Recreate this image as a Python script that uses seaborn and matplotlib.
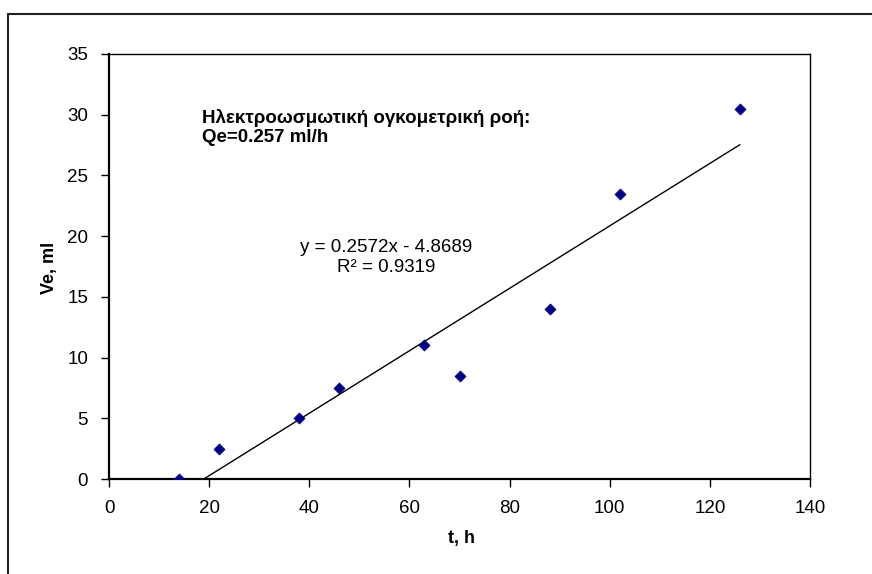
import numpy as np
import pandas as pd
import matplotlib
matplotlib.use("Agg")
import matplotlib.pyplot as plt
import seaborn as sns
from matplotlib.lines import Line2D

sns.set_theme(style="white")
plt.rcParams["font.family"] = ["Liberation Sans", "DejaVu Sans"]

# Measured electro-osmotic volume over time
t_hours = [14, 22, 38, 46, 63, 70, 88, 102, 126]
ve_ml = [0, 2.5, 5, 7.5, 11, 8.5, 14, 23.5, 30.5]

x_ticks = [0, 20, 40, 60, 80, 100, 120, 140]
y_ticks = [0, 5, 10, 15, 20, 25, 30, 35]

title_lines = ["Ηλεκτροωσμωτική ογκομετρική ροή:", "Qe=0.257 ml/h"]

df = pd.DataFrame({"t": t_hours, "Ve": ve_ml})

# Linear least-squares trend line
slope, intercept = np.polyfit(df["t"], df["Ve"], 1)
pred = slope * df["t"] + intercept
r2 = 1 - ((df["Ve"] - pred) ** 2).sum() / ((df["Ve"] - df["Ve"].mean()) ** 2).sum()
trend = pd.DataFrame({"t": [df["t"].min(), df["t"].max()]})
trend["Ve"] = slope * trend["t"] + intercept

fig = plt.figure(figsize=(8.72, 5.74), dpi=100)
ax = fig.add_axes([109 / 872, 1 - 479 / 574, 701 / 872, 425 / 574])

sns.lineplot(data=trend, x="t", y="Ve", ax=ax, color="black", linewidth=1.0)
sns.scatterplot(data=df, x="t", y="Ve", ax=ax, marker="D", s=32,
                color="#000080", edgecolor="#000080", linewidth=0.5, zorder=3)

ax.set_xlim(0, 140)
ax.set_ylim(0, 35)
ax.set_xticks(x_ticks)
ax.set_yticks(y_ticks)
ax.set_xticklabels([str(v) for v in x_ticks])
ax.set_yticklabels([str(v) for v in y_ticks])
ax.tick_params(axis="both", which="major", direction="out", length=6, width=1,
               color="black", labelsize=13.5, labelcolor="black",
               bottom=True, left=True)
ax.tick_params(axis="x", pad=9)
ax.tick_params(axis="y", pad=9)

for side in ["top", "right"]:
    ax.spines[side].set_color("black")
    ax.spines[side].set_linewidth(1.0)
for side in ["left", "bottom"]:
    ax.spines[side].set_color("black")
    ax.spines[side].set_linewidth(1.6)

ax.set_xlabel("t, h", fontsize=13, fontweight="bold", color="black")
ax.set_ylabel("Ve, ml", fontsize=13, fontweight="bold", color="black")
ax.xaxis.set_label_coords((461 - 109) / 701, -(530 - 479) / 425)
ax.yaxis.set_label_coords(-(109 - 58) / 701, (479 - 268) / 425)

ax.text((202 - 109) / 701, (479 - 118) / 425, title_lines[0], transform=ax.transAxes,
        fontsize=13.5, fontweight="bold", ha="left", va="center", color="black")
ax.text((202 - 109) / 701, (479 - 137) / 425, title_lines[1], transform=ax.transAxes,
        fontsize=13.5, fontweight="bold", ha="left", va="center", color="black")

ax.text((386 - 109) / 701, (479 - 247) / 425,
        f"y = {slope:.4f}x - {abs(intercept):.4f}", transform=ax.transAxes,
        fontsize=13.5, ha="center", va="center", color="black")
ax.text((386 - 109) / 701, (479 - 268) / 425,
        f"R² = {r2:.4f}", transform=ax.transAxes,
        fontsize=13.5, ha="center", va="center", color="black")

# Chart frame
fig.add_artist(Line2D([8 / 872, 1.0], [1 - 14 / 574, 1 - 14 / 574],
                      transform=fig.transFigure, color="#222222", linewidth=1.5))
fig.add_artist(Line2D([8 / 872, 8 / 872], [0.0, 1 - 14 / 574],
                      transform=fig.transFigure, color="#222222", linewidth=1.5))

fig.savefig("out.png", dpi=100, facecolor="white")
